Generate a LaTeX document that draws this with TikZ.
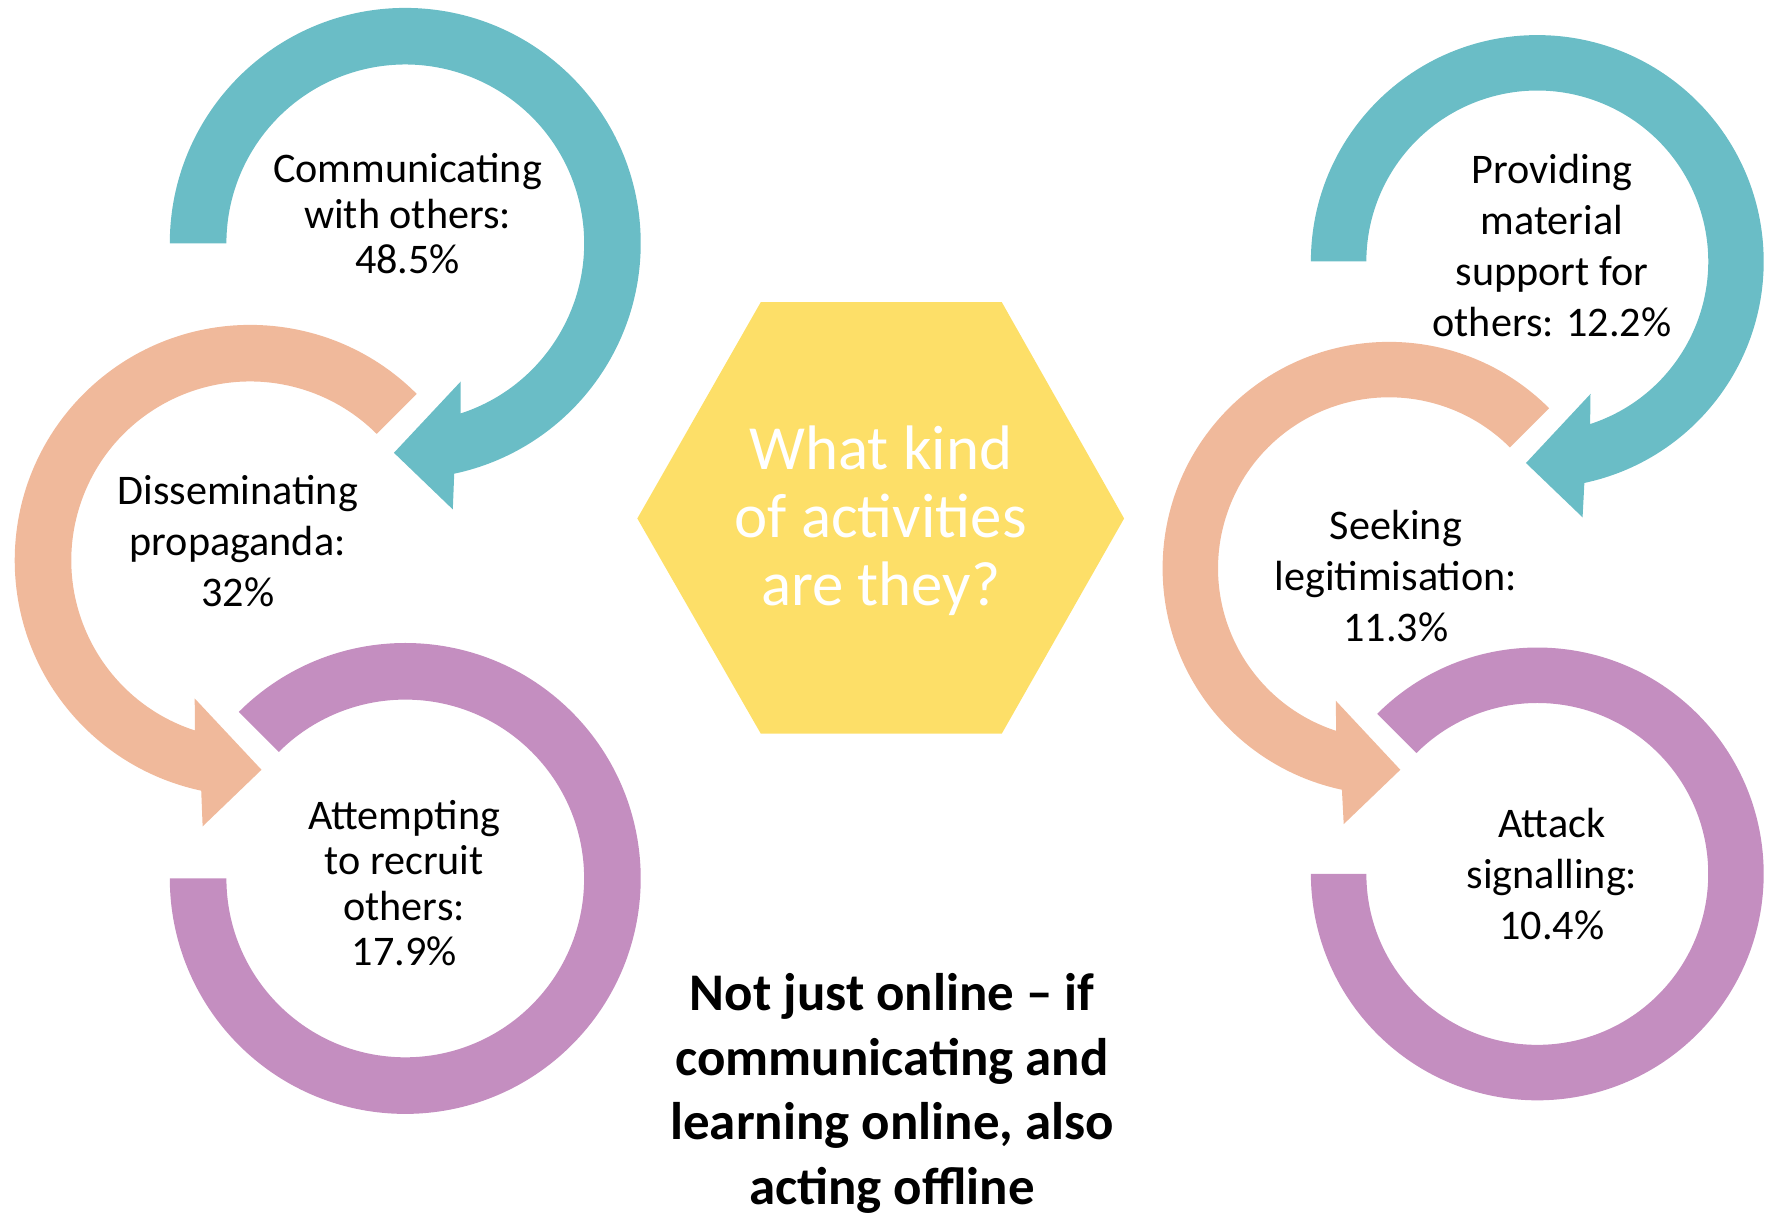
\documentclass[tikz,border=0pt]{standalone}
\usepackage{fontspec}
\setmainfont{Carlito}
\usepackage{tikz}
\usepackage{xcolor}
\definecolor{tealc}{HTML}{6ABDC6}
\definecolor{peachc}{HTML}{F0B99B}
\definecolor{purplec}{HTML}{C48EC0}
\definecolor{yellowc}{HTML}{FDDF68}

\begin{document}
\begin{tikzpicture}[lbl/.style={align=center, font=\fontsize{10.6}{11.4}\selectfont},
                    lblr/.style={align=center, font=\fontsize{10.6}{12.8}\selectfont}]
            \useasboundingbox (0,0) rectangle (15.68,10.73);
            % left group
            \fill[tealc, shift={(3.58,8.58)}] (180:2.08) arc[start angle=180, end angle=-78, radius=2.08]
                -- (0.42,-2.35) -- (-0.10,-1.85) -- (0.49,-1.22)
                -- (-72:1.58) arc[start angle=-72, end angle=180, radius=1.58] -- cycle;
            \fill[peachc, shift={(2.21,5.78)}] (45:2.08) arc[start angle=45, end angle=258, radius=2.08]
                -- (-0.42,-2.35) -- (0.10,-1.85) -- (-0.49,-1.22)
                -- (252:1.58) arc[start angle=252, end angle=45, radius=1.58] -- cycle;
            \fill[purplec, shift={(3.58,2.97)}] (135:2.08) arc[start angle=135, end angle=-180, radius=2.08]
                -- (180:1.58) arc[start angle=-180, end angle=135, radius=1.58] -- cycle;
            % right group
            \fill[tealc, shift={(13.58,8.42)}] (180:2.00) arc[start angle=180, end angle=-78, radius=2.00]
                -- (0.40,-2.26) -- (-0.10,-1.78) -- (0.47,-1.17)
                -- (-72:1.51) arc[start angle=-72, end angle=180, radius=1.51] -- cycle;
            \fill[peachc, shift={(12.27,5.71)}] (45:2.00) arc[start angle=45, end angle=258, radius=2.00]
                -- (-0.40,-2.26) -- (0.10,-1.78) -- (-0.47,-1.17)
                -- (252:1.51) arc[start angle=252, end angle=45, radius=1.51] -- cycle;
            \fill[purplec, shift={(13.58,3.01)}] (135:2.00) arc[start angle=135, end angle=-180, radius=2.00]
                -- (180:1.51) arc[start angle=-180, end angle=135, radius=1.51] -- cycle;
            % centre
            \fill[yellowc] (5.63,6.15) -- (6.72,8.06) -- (8.85,8.06) -- (9.93,6.15)
                -- (8.85,4.25) -- (6.72,4.25) -- cycle;
            \node[align=center, text=white, font=\fontsize{15.8}{17}\selectfont] (question) at (7.78,6.13)
                {What kind\\of activities\\are they?};
            \node[lbl] (comm) at (3.60,8.84) {Communicating\\with others:\\48.5\%};
            \node[lblr] (diss) at (2.10,5.95) {Disseminating\\propaganda:\\32\%};
            \node[lbl] (recr) at (3.57,2.93) {Attempting\\to recruit\\others:\\17.9\%};
            \node[lblr] (supp) at (13.71,8.56) {Providing\\material\\support for\\others: 12.2\%};
            \node[lblr] (legit) at (12.33,5.64) {Seeking\\legitimisation:\\11.3\%};
            \node[lblr] (attack) at (13.71,3.01) {Attack\\signalling:\\10.4\%};
            \node[align=center, font=\bfseries\fontsize{13.3}{16.2}\selectfont] (offline) at (7.88,1.07)
                {Not just online -- if\\communicating and\\learning online, also\\acting offline};
        \end{tikzpicture}
\end{document}
